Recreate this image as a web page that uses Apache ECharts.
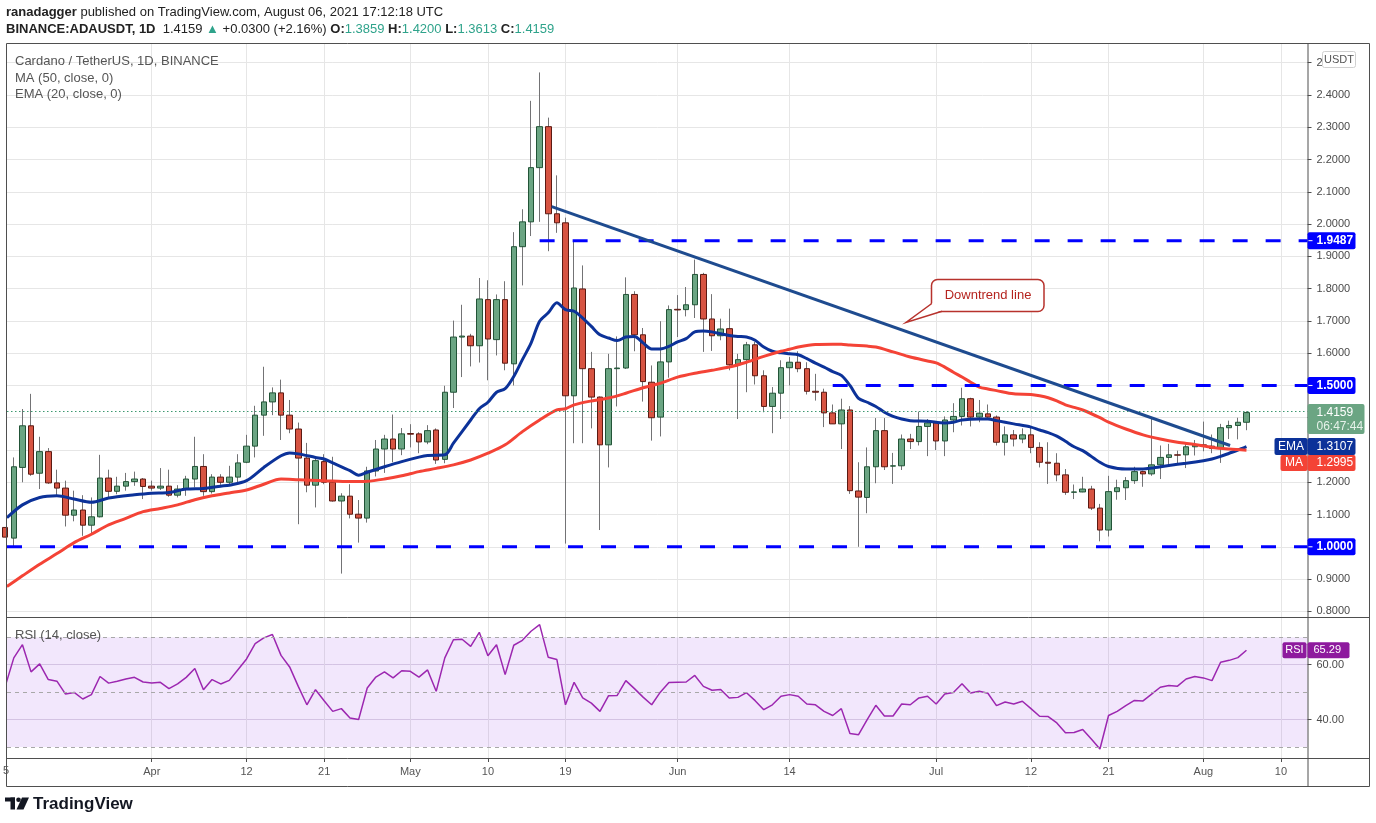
<!DOCTYPE html>
<html>
<head>
<meta charset="utf-8">
<title>Cardano / TetherUS, 1D, BINANCE</title>
<script src="https://cdn.jsdelivr.net/npm/echarts@6.0.0/dist/echarts.min.js"></script>
<style>
  html, body { margin: 0; height: 100%; background: #fff; }
  #chart { width: 1376px; height: 823px; }
</style>
</head>
<body>
<div id="chart"></div>
<script>
// day index 0 = 2021-03-15, index 144 = 2021-08-06
const opens = [
  1.06,1.027,1.246,1.375,1.228,1.295,1.198,1.182,1.098,1.114,
  1.067,1.093,1.213,1.172,1.188,1.202,1.21,1.188,1.182,1.188,
  1.16,1.179,1.21,1.249,1.171,1.216,1.2,1.216,1.262,1.312,
  1.408,1.449,1.477,1.408,1.365,1.275,1.191,1.264,1.2,1.142,
  1.157,1.101,1.089,1.235,1.303,1.334,1.303,1.351,1.35,1.325,
  1.362,1.271,1.479,1.65,1.653,1.623,1.766,1.642,1.766,1.567,
  1.93,2.007,2.175,2.302,2.032,2.004,1.468,1.799,1.552,1.464,
  1.316,1.552,1.554,1.782,1.657,1.51,1.402,1.573,1.736,1.735,
  1.75,1.844,1.706,1.654,1.676,1.564,1.58,1.626,1.53,1.435,
  1.476,1.555,1.572,1.552,1.482,1.479,1.415,1.381,1.424,1.173,
  1.153,1.248,1.36,1.25,1.251,1.334,1.326,1.373,1.384,1.328,
  1.393,1.404,1.459,1.402,1.412,1.402,1.324,1.347,1.334,1.347,
  1.308,1.262,1.259,1.223,1.169,1.17,1.179,1.12,1.052,1.171,
  1.183,1.205,1.233,1.226,1.254,1.277,1.285,1.285,1.31,1.316,
  1.312,1.305,1.369,1.376,1.3859
];
const closes = [
  1.03,1.248,1.375,1.225,1.295,1.198,1.182,1.098,1.114,1.067,
  1.093,1.213,1.172,1.188,1.202,1.21,1.187,1.182,1.188,1.16,
  1.179,1.21,1.249,1.171,1.216,1.2,1.216,1.26,1.312,1.408,
  1.449,1.477,1.408,1.365,1.275,1.191,1.267,1.2,1.142,1.157,
  1.101,1.089,1.235,1.303,1.334,1.303,1.35,1.349,1.325,1.36,
  1.269,1.479,1.65,1.653,1.623,1.768,1.644,1.766,1.569,1.93,
  2.007,2.175,2.302,2.032,2.004,1.468,1.802,1.552,1.464,1.316,
  1.552,1.554,1.782,1.657,1.512,1.4,1.573,1.735,1.734,1.75,
  1.844,1.706,1.654,1.675,1.564,1.58,1.626,1.53,1.435,1.476,
  1.555,1.572,1.552,1.482,1.479,1.415,1.381,1.424,1.174,1.154,
  1.248,1.36,1.248,1.251,1.334,1.326,1.373,1.384,1.328,1.393,
  1.404,1.459,1.402,1.414,1.402,1.324,1.347,1.334,1.347,1.308,
  1.262,1.259,1.223,1.169,1.17,1.179,1.12,1.052,1.171,1.183,
  1.205,1.233,1.226,1.254,1.277,1.285,1.284,1.31,1.316,1.312,
  1.305,1.369,1.376,1.3859,1.4159
];
const highs = [
  1.08,1.277,1.427,1.474,1.341,1.306,1.239,1.205,1.174,1.16,
  1.153,1.285,1.239,1.217,1.229,1.233,1.213,1.205,1.244,1.239,
  1.191,1.22,1.341,1.287,1.225,1.225,1.251,1.287,1.347,1.437,
  1.558,1.494,1.518,1.455,1.385,1.322,1.28,1.287,1.279,1.166,
  1.194,1.145,1.248,1.331,1.347,1.41,1.368,1.38,1.355,1.377,
  1.367,1.499,1.701,1.75,1.66,1.833,1.826,1.782,1.823,1.975,
  2.046,2.382,2.47,2.33,2.151,2.02,1.949,1.872,1.604,1.466,
  1.598,1.652,1.835,1.792,1.678,1.562,1.699,1.748,1.78,1.805,
  1.89,1.849,1.783,1.707,1.738,1.598,1.635,1.635,1.547,1.495,
  1.578,1.588,1.606,1.572,1.536,1.49,1.441,1.459,1.436,1.262,
  1.308,1.399,1.399,1.291,1.348,1.35,1.419,1.396,1.389,1.404,
  1.445,1.493,1.462,1.455,1.441,1.407,1.373,1.362,1.367,1.373,
  1.324,1.324,1.29,1.241,1.193,1.217,1.189,1.133,1.22,1.208,
  1.216,1.248,1.236,1.399,1.314,1.319,1.298,1.321,1.331,1.388,
  1.348,1.381,1.391,1.4,1.42
];
const lows = [
  1.02,1.0,1.2,1.22,1.179,1.195,1.155,1.063,1.079,1.034,
  1.041,1.091,1.153,1.163,1.174,1.189,1.148,1.174,1.176,1.155,
  1.153,1.158,1.184,1.158,1.165,1.192,1.189,1.2,1.259,1.277,
  1.344,1.408,1.331,1.352,1.07,1.169,1.122,1.194,1.14,0.917,
  1.088,1.013,1.075,1.218,1.229,1.262,1.284,1.308,1.29,1.318,
  1.257,1.259,1.43,1.526,1.559,1.571,1.516,1.593,1.547,1.5,
  1.81,1.963,2.007,1.916,1.973,1.01,1.321,1.321,1.367,1.052,
  1.246,1.435,1.551,1.606,1.45,1.329,1.342,1.524,1.65,1.714,
  1.709,1.604,1.607,1.64,1.547,1.396,1.479,1.503,1.417,1.352,
  1.396,1.5,1.541,1.472,1.453,1.371,1.381,1.303,1.164,1.0,
  1.104,1.197,1.238,1.195,1.238,1.303,1.314,1.281,1.3,1.281,
  1.355,1.376,1.373,1.386,1.396,1.314,1.283,1.311,1.321,1.29,
  1.246,1.195,1.203,1.161,1.148,1.169,1.114,1.017,1.032,1.146,
  1.145,1.195,1.186,1.22,1.21,1.252,1.257,1.244,1.283,1.296,
  1.29,1.26,1.334,1.333,1.3613
];
const rsiValues = [
  52.1,62.5,67.3,57.4,60.3,54.6,54.0,49.3,49.9,47.5,
  49.1,55.7,53.3,54.0,54.8,55.4,53.7,53.3,53.6,51.3,
  53.0,55.4,58.6,50.9,54.6,53.0,54.3,58.2,62.1,67.7,
  69.8,71.0,63.4,59.2,52.1,45.4,50.9,46.9,43.0,44.0,
  40.6,40.0,51.5,55.5,57.4,55.2,57.8,57.6,55.5,58.1,
  50.3,62.5,69.1,69.3,66.7,71.8,63.3,67.3,56.4,67.1,
  68.9,72.2,74.6,62.7,61.9,45.4,53.6,47.9,46.0,43.0,
  48.7,48.8,54.2,51.3,48.2,45.4,50.0,53.5,53.6,53.7,
  56.1,52.1,50.7,51.0,47.9,48.1,49.8,46.9,43.6,45.4,
  48.5,49.1,48.5,45.7,45.4,43.0,41.5,44.0,34.9,34.5,
  40.0,45.2,41.3,41.3,45.7,45.4,47.9,48.5,45.7,49.3,
  49.9,53.1,49.7,50.3,49.6,45.1,46.4,45.7,46.7,44.0,
  41.2,41.1,38.8,35.2,35.3,36.4,32.9,29.3,41.5,43.0,
  45.1,47.0,46.8,49.3,51.8,52.4,52.2,54.8,55.7,55.2,
  54.2,60.9,61.6,62.6,65.29
];
const emaPoints = [
  [0.2,1.09],[2,1.13],[4,1.153],[6,1.158],[8,1.148],[10,1.138],[12,1.151],[15,1.161],[17,1.166],
  [19,1.168],[21,1.179],[23,1.181],[25,1.188],[26,1.191],[28,1.205],[30,1.246],[32,1.282],[33,1.291],
  [34,1.288],[36,1.277],[37,1.272],[38,1.26],[40,1.236],[41,1.222],[42,1.231],[44,1.248],[46,1.264],
  [48,1.278],[49,1.283],[51,1.285],[52,1.321],[54,1.393],[55,1.428],[56,1.448],[57,1.479],[58,1.49],
  [59,1.528],[60,1.58],[61,1.631],[62,1.699],[63,1.725],[64,1.756],[65,1.735],[66,1.73],[67,1.709],
  [68,1.683],[69,1.657],[70,1.647],[71,1.639],[72,1.65],[73,1.652],[74,1.632],[75,1.613],[76,1.613],
  [77,1.621],[78,1.635],[79,1.645],[80,1.666],[81,1.669],[82,1.666],[83,1.66],[84,1.655],[85,1.652],
  [86,1.65],[87,1.64],[88,1.619],[89,1.606],[90,1.601],[91,1.598],[92,1.595],[93,1.583],[94,1.569],
  [95,1.557],[96,1.543],[97,1.531],[98,1.5],[99,1.46],[100,1.448],[101,1.435],[102,1.417],[103,1.404],
  [104,1.396],[105,1.391],[107,1.389],[109,1.384],[110,1.386],[111,1.393],[113,1.396],[114,1.396],
  [115,1.391],[117,1.381],[119,1.371],[120,1.362],[121,1.354],[122,1.343],[123,1.327],[124,1.31],
  [125,1.298],[127,1.262],[128,1.249],[130,1.241],[132,1.241],[133,1.244],[135,1.252],[137,1.259],
  [139,1.267],[140,1.272],[141,1.28],[142,1.29],[143,1.3],[144,1.3107]
];
const maPoints = [
  [0.2,0.877],[2,0.91],[4,0.946],[6,0.979],[8,1.013],[10,1.039],[12,1.068],[14,1.088],[16,1.109],
  [18,1.119],[20,1.13],[22,1.146],[24,1.158],[26,1.167],[28,1.176],[30,1.194],[32,1.21],[34,1.208],
  [37,1.205],[40,1.202],[42,1.203],[44,1.21],[46,1.22],[48,1.233],[50,1.243],[52,1.254],[54,1.269],
  [56,1.29],[58,1.316],[60,1.357],[62,1.393],[64,1.424],[65,1.428],[66,1.44],[68,1.452],[70,1.461],
  [72,1.476],[74,1.493],[76,1.507],[78,1.526],[80,1.538],[82,1.547],[84,1.557],[86,1.572],[88,1.59],
  [90,1.606],[91,1.612],[92,1.619],[94,1.627],[96,1.628],[97,1.628],[98,1.625],[100,1.622],[101,1.619],
  [103,1.604],[105,1.588],[107,1.576],[108,1.57],[109,1.557],[110,1.541],[111,1.526],[112,1.51],
  [113,1.495],[114,1.489],[115,1.484],[117,1.474],[119,1.472],[120,1.468],[121,1.462],[122,1.452],
  [123,1.44],[124,1.432],[125,1.424],[127,1.4],[128,1.386],[130,1.365],[132,1.347],[134,1.334],
  [136,1.324],[138,1.317],[140,1.308],[142,1.303],[144,1.2995]
];
const trendLine = [[63.4, 2.054], [142.1, 1.314]];
const levelValues = [1.9487, 1.5, 1.0];
const levelStartDay = [62, 96, 0];
const dateTicks = [17, 28, 37, 47, 56, 65, 78, 91, 108, 119, 128, 139, 148];
const dateLabels = ['Apr', '12', '21', 'May', '10', '19', 'Jun', '14', 'Jul', '12', '21', 'Aug', '10'];
const priceTicks = [0.8, 0.9, 1.0, 1.1, 1.2, 1.3, 1.4, 1.5, 1.6, 1.7, 1.8, 1.9, 2.0, 2.1, 2.2, 2.3, 2.4, 2.5];
const rsiTicks = [40, 60];
const lastPrice = 1.4159, lastEma = 1.3107, lastMa = 1.2995, lastRsi = 65.29;

const X_MIN = 0.21, X_MAX = 151.08;
const FONT = 'Liberation Sans, Arial, sans-serif';
const UP = '#6ba583', DOWN = '#d75442', UP_BORDER = '#225437', DOWN_BORDER = '#5b1a13', WICK = '#737375';
const EMA_COLOR = '#0c3299', MA_COLOR = '#f44336', RSI_COLOR = '#9c27b0', LEVEL_COLOR = '#0000ff';
const FRAME = '#4f4f4f', GRID = '#e6e6e6';

// wick series uses the full range, body series only open/close so it sits on top
const wickData = opens.map((o, i) => [i, o, closes[i], lows[i], highs[i]]);
const bodyData = opens.map((o, i) => [i, o, closes[i], Math.min(o, closes[i]), Math.max(o, closes[i])]);

const chart = echarts.init(document.getElementById('chart'));

const levelSeries = levelValues.map((v, k) => ({
  type: 'line', xAxisIndex: 0, yAxisIndex: 0, z: 6, silent: true, symbol: 'none',
  data: [[Math.max(levelStartDay[k], X_MIN), v], [X_MAX, v]],
  lineStyle: { color: LEVEL_COLOR, width: 3, type: [15, 18] }
}));

chart.setOption({
  animation: false,
  backgroundColor: '#ffffff',
  textStyle: { fontFamily: FONT },
  grid: [
    { left: 7, right: 68.5, top: 43, height: 574 },
    { left: 7, right: 68.5, top: 617, height: 141 }
  ],
  xAxis: [
    {
      type: 'value', gridIndex: 0, min: X_MIN, max: X_MAX,
      axisLine: { show: false },
      axisTick: { show: false, customValues: dateTicks },
      axisLabel: { show: false, customValues: dateTicks },
      splitLine: { show: true, lineStyle: { color: GRID } }
    },
    {
      type: 'value', gridIndex: 1, min: X_MIN, max: X_MAX,
      axisLine: { show: false },
      axisTick: { show: true, length: 4, customValues: dateTicks, lineStyle: { color: FRAME } },
      axisLabel: {
        customValues: dateTicks, color: '#555', fontSize: 11, margin: 8,
        formatter: v => dateLabels[dateTicks.indexOf(v)]
      },
      splitLine: { show: true, lineStyle: { color: GRID } }
    }
  ],
  yAxis: [
    {
      type: 'value', gridIndex: 0, position: 'right', min: 0.7825, max: 2.5612,
      axisLine: { show: false },
      axisTick: { show: true, length: 4, customValues: priceTicks, lineStyle: { color: FRAME } },
      axisLabel: { customValues: priceTicks, color: '#4a4a4a', fontSize: 11, margin: 9, formatter: v => v.toFixed(4) },
      splitLine: { show: true, lineStyle: { color: GRID } }
    },
    {
      type: 'value', gridIndex: 1, position: 'right', min: 26.0, max: 77.4,
      axisLine: { show: false },
      axisTick: { show: true, length: 4, customValues: rsiTicks, lineStyle: { color: FRAME } },
      axisLabel: { customValues: rsiTicks, color: '#4a4a4a', fontSize: 11, margin: 9, formatter: v => v.toFixed(2) },
      splitLine: { show: true, lineStyle: { color: '#ddd6e3' } }
    }
  ],
  series: [
    {
      name: 'wicks', type: 'candlestick', xAxisIndex: 0, yAxisIndex: 0, z: 2, silent: true,
      barWidth: 1, data: wickData,
      itemStyle: { color: WICK, color0: WICK, borderColor: WICK, borderColor0: WICK, borderWidth: 1 }
    },
    {
      name: 'ADAUSDT', type: 'candlestick', xAxisIndex: 0, yAxisIndex: 0, z: 3, silent: true,
      barWidth: 6, data: bodyData,
      itemStyle: { color: UP, color0: DOWN, borderColor: UP_BORDER, borderColor0: DOWN_BORDER, borderWidth: 1 },
      markLine: {
        silent: true, symbol: ['none', 'none'], label: { show: false },
        lineStyle: { color: '#3d9970', width: 1, type: [1.5, 2.5] },
        data: [{ yAxis: lastPrice }]
      }
    },
    {
      name: 'EMA', type: 'line', xAxisIndex: 0, yAxisIndex: 0, z: 4, silent: true,
      symbol: 'none', smooth: 0.3, data: emaPoints,
      lineStyle: { color: EMA_COLOR, width: 3 }
    },
    {
      name: 'MA', type: 'line', xAxisIndex: 0, yAxisIndex: 0, z: 4, silent: true,
      symbol: 'none', smooth: 0.3, data: maPoints,
      lineStyle: { color: MA_COLOR, width: 3 }
    },
    ...levelSeries,
    {
      name: 'Downtrend', type: 'line', xAxisIndex: 0, yAxisIndex: 0, z: 7, silent: true,
      symbol: 'none', data: trendLine,
      lineStyle: { color: '#1e4b8f', width: 3 }
    },
    {
      name: 'RSI', type: 'line', xAxisIndex: 1, yAxisIndex: 1, z: 4, silent: true,
      symbol: 'none', data: rsiValues.map((v, i) => [i, v]),
      lineStyle: { color: RSI_COLOR, width: 1.5 },
      markArea: {
        silent: true,
        itemStyle: { color: 'rgba(149, 56, 230, 0.12)' },
        data: [[{ yAxis: 30 }, { yAxis: 70 }]]
      },
      markLine: {
        silent: true, symbol: ['none', 'none'], label: { show: false },
        lineStyle: { color: '#a8a8a8', width: 1, type: [4, 4] },
        data: [{ yAxis: 70 }, { yAxis: 50 }, { yAxis: 30 }]
      }
    }
  ]
});

// overlays: frame, price tags, texts
const py = v => chart.convertToPixel({ yAxisIndex: 0 }, v);
const ry = v => chart.convertToPixel({ yAxisIndex: 1 }, v);
const AX = chart.convertToPixel({ xAxisIndex: 0 }, X_MAX);
const g = [];

function hline(x1, x2, y) {
  g.push({ type: 'line', z: 100, silent: true, shape: { x1, y1: y, x2, y2: y }, style: { stroke: FRAME, lineWidth: 1 } });
}
function vline(x, y1, y2) {
  g.push({ type: 'line', z: 100, silent: true, shape: { x1: x, y1, x2: x, y2 }, style: { stroke: FRAME, lineWidth: 1 } });
}
function box(x, y, w, h, fill, stroke) {
  g.push({ type: 'rect', z: 110, silent: true, shape: { x, y, width: w, height: h, r: 2 },
    style: { fill, stroke: stroke || null, lineWidth: stroke ? 1 : 0 } });
}
function text(x, y, t, opt) {
  g.push({ type: 'text', z: 120, silent: true, x, y,
    style: Object.assign({ text: t, fontFamily: FONT, fontSize: 12, fill: '#fff', verticalAlign: 'middle', align: 'left' }, opt || {}) });
}

// frame
hline(6.5, 1369.5, 43.5); hline(6.5, 1369.5, 617.5); hline(6.5, 1369.5, 758.5); hline(6.5, 1369.5, 786.5);
vline(6.5, 43.5, 786.5); vline(AX + 0.5, 43.5, 786.5); vline(1369.5, 43.5, 786.5);

// horizontal level tags
levelValues.forEach(v => {
  const y = py(v);
  box(AX, y - 8.5, 48, 17, LEVEL_COLOR);
  g.push({ type: 'line', z: 120, silent: true, shape: { x1: AX + 1, y1: y, x2: AX + 5, y2: y }, style: { stroke: '#fff', lineWidth: 1 } });
  text(AX + 9, y, v.toFixed(4), { fontWeight: 'bold' });
});

// last price tag with countdown
const yp = py(lastPrice);
box(AX, yp - 8.5, 57, 30, UP);
text(AX + 9, yp, lastPrice.toFixed(4));
text(AX + 9, yp + 14, '06:47:44', { fill: '#e6f2ea' });

// EMA / MA tags
const yeTop = py(lastEma) - 8.5;
box(AX - 33, yeTop, 33, 17, EMA_COLOR);
box(AX, yeTop, 48, 17, EMA_COLOR);
text(AX - 16.5, yeTop + 8.5, 'EMA', { align: 'center' });
text(AX + 9, yeTop + 8.5, lastEma.toFixed(4));
const ymTop = Math.max(py(lastMa) - 8.5, yeTop + 17);
box(AX - 27, ymTop, 27, 16, MA_COLOR);
box(AX, ymTop, 48, 16, MA_COLOR);
text(AX - 13.5, ymTop + 8, 'MA', { align: 'center' });
text(AX + 9, ymTop + 8, lastMa.toFixed(4));

// RSI tag
const yr = ry(lastRsi);
box(AX - 25, yr - 8, 24, 16, '#8e1a9e');
box(AX, yr - 8, 42, 16, '#8e1a9e');
text(AX - 13, yr, 'RSI', { align: 'center', fontSize: 11 });
text(AX + 6, yr, lastRsi.toFixed(2), { fontSize: 11 });

// currency box
box(1322.5, 51.5, 33, 16, '#ffffff', '#d0d0d0');
text(1339, 59.5, 'USDT', { align: 'center', fontSize: 11, fill: '#555' });

// header
text(6, 12, '{b|ranadagger} published on TradingView.com, August 06, 2021 17:12:18 UTC', {
  fontSize: 13, fill: '#222', rich: { b: { fontWeight: 'bold', fontSize: 13, fill: '#222', fontFamily: FONT } }
});
text(6, 29, '{b|BINANCE:ADAUSDT, 1D}  1.4159 {g|\u25B2} +0.0300 (+2.16%) {b|O:}{g|1.3859} {b|H:}{g|1.4200} {b|L:}{g|1.3613} {b|C:}{g|1.4159}', {
  fontSize: 13, fill: '#222',
  rich: {
    b: { fontWeight: 'bold', fontSize: 13, fill: '#222', fontFamily: FONT },
    g: { fontSize: 13, fill: '#2fa38b', fontFamily: FONT }
  }
});

// legends
text(15, 61, 'Cardano / TetherUS, 1D, BINANCE', { fontSize: 13, fill: '#555' });
text(15, 78, 'MA (50, close, 0)', { fontSize: 13, fill: '#555' });
text(15, 94, 'EMA (20, close, 0)', { fontSize: 13, fill: '#555' });
text(15, 635, 'RSI (14, close)', { fontSize: 13, fill: '#555' });

// clipped first date label
text(3, 771, '5', { fontSize: 11, fill: '#555' });

// downtrend annotation
g.push({ type: 'rect', z: 60, silent: true, shape: { x: 931.5, y: 279.5, width: 112.5, height: 32, r: 6 },
  style: { fill: '#fff', stroke: '#b7322c', lineWidth: 1.5 } });
g.push({ type: 'polygon', z: 61, silent: true, shape: { points: [[932.5, 303], [906, 322.5], [942, 310.5]] },
  style: { fill: '#fff' } });
g.push({ type: 'polyline', z: 62, silent: true, shape: { points: [[931.8, 303.5], [906, 322.5], [942, 311.2]] },
  style: { stroke: '#b7322c', lineWidth: 1.5, fill: null } });
text(988, 295, 'Downtrend line', { align: 'center', fontSize: 13, fill: '#b5241f' });

// TradingView logo
g.push({ type: 'rect', z: 120, silent: true, shape: { x: 5, y: 797.5, width: 10, height: 4 }, style: { fill: '#131722' } });
g.push({ type: 'rect', z: 120, silent: true, shape: { x: 10.5, y: 797.5, width: 4.5, height: 12 }, style: { fill: '#131722' } });
g.push({ type: 'circle', z: 120, silent: true, shape: { cx: 18.5, cy: 799.8, r: 2.3 }, style: { fill: '#131722' } });
g.push({ type: 'polygon', z: 120, silent: true, shape: { points: [[22, 797.5], [29, 797.5], [23.5, 809.5], [16.5, 809.5]] }, style: { fill: '#131722' } });
text(33, 804, 'TradingView', { fontSize: 17, fontWeight: 'bold', fill: '#131722' });

chart.setOption({ graphic: g });
</script>
</body>
</html>
